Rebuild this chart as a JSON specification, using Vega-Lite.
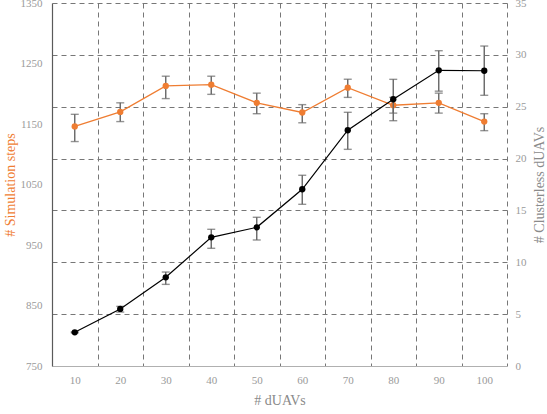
{
  "$schema": "https://vega.github.io/schema/vega-lite/v6.json",
  "autosize": "none",
  "width": 455,
  "height": 363,
  "padding": {"left": 52, "top": 3, "right": 40, "bottom": 48},
  "background": "white",
  "data": {
    "values": [
      {"n": 10, "steps": 1146, "steps_lo": 1121, "steps_hi": 1166, "cl": 3.25, "cl_lo": 3.2, "cl_hi": 3.3},
      {"n": 20, "steps": 1170, "steps_lo": 1154, "steps_hi": 1185, "cl": 5.5, "cl_lo": 5.2, "cl_hi": 5.75},
      {"n": 30, "steps": 1213, "steps_lo": 1192, "steps_hi": 1229, "cl": 8.55, "cl_lo": 7.87, "cl_hi": 9.06},
      {"n": 40, "steps": 1215, "steps_lo": 1199, "steps_hi": 1229, "cl": 12.41, "cl_lo": 11.35, "cl_hi": 13.18},
      {"n": 50, "steps": 1185, "steps_lo": 1167, "steps_hi": 1201, "cl": 13.37, "cl_lo": 12.15, "cl_hi": 14.34},
      {"n": 60, "steps": 1169, "steps_lo": 1152, "steps_hi": 1182, "cl": 17.04, "cl_lo": 15.59, "cl_hi": 18.39},
      {"n": 70, "steps": 1210, "steps_lo": 1194, "steps_hi": 1224, "cl": 22.73, "cl_lo": 20.89, "cl_hi": 24.46},
      {"n": 80, "steps": 1181, "steps_lo": 1168, "steps_hi": 1194, "cl": 25.72, "cl_lo": 23.65, "cl_hi": 27.64},
      {"n": 90, "steps": 1185, "steps_lo": 1168, "steps_hi": 1201, "cl": 28.51, "cl_lo": 26.5, "cl_hi": 30.4},
      {"n": 100, "steps": 1154, "steps_lo": 1139, "steps_hi": 1167, "cl": 28.47, "cl_lo": 26.1, "cl_hi": 30.85}
    ]
  },
  "config": {
    "view": {"stroke": null},
    "axis": {
      "labelFont": "Liberation Serif, DejaVu Serif, serif",
      "titleFont": "Liberation Serif, DejaVu Serif, serif",
      "labelFontSize": 11,
      "titleFontSize": 14,
      "titleFontWeight": "normal",
      "labelColor": "#9a9a9a",
      "titleColor": "#8a8a8a",
      "ticks": false,
      "format": "d"
    }
  },
  "layer": [
    {
      "encoding": {
        "x": {
          "field": "n",
          "type": "quantitative",
          "scale": {"domain": [5, 105], "nice": false, "zero": false},
          "axis": {
            "orient": "bottom",
            "title": "# dUAVs",
            "values": [10, 20, 30, 40, 50, 60, 70, 80, 90, 100],
            "grid": false,
            "domainColor": "#b0b0b0",
            "domainWidth": 1.2,
            "labelPadding": 8,
            "titlePadding": 8
          }
        }
      },
      "layer": [
        {
          "mark": {"type": "errorbar", "color": "#666666", "thickness": 1.4, "ticks": {"size": 8, "thickness": 1.4}},
          "encoding": {
            "y": {
              "field": "steps_lo",
              "type": "quantitative",
              "scale": {"domain": [750, 1350], "nice": false, "zero": false},
              "axis": {"orient": "left", "title": "# Simulation steps", "titleColor": "#ef7d32", "values": [750, 850, 950, 1050, 1150, 1250, 1350], "grid": false, "domainColor": "#5a5a5a", "domainWidth": 1.2, "labelPadding": 10, "titlePadding": 3}
            },
            "y2": {"field": "steps_hi"}
          }
        },
        {
          "mark": {"type": "line", "color": "#ef7d32", "strokeWidth": 1.3},
          "encoding": {
            "y": {
              "field": "steps",
              "type": "quantitative",
              "scale": {"domain": [750, 1350], "nice": false, "zero": false},
              "axis": {"orient": "left", "title": "# Simulation steps", "titleColor": "#ef7d32", "values": [750, 850, 950, 1050, 1150, 1250, 1350], "grid": false, "domainColor": "#5a5a5a", "domainWidth": 1.2, "labelPadding": 10, "titlePadding": 3}
            }
          }
        },
        {
          "mark": {"type": "point", "filled": true, "color": "#ef7d32", "size": 40, "opacity": 1},
          "encoding": {
            "y": {
              "field": "steps",
              "type": "quantitative",
              "scale": {"domain": [750, 1350], "nice": false, "zero": false},
              "axis": {"orient": "left", "title": "# Simulation steps", "titleColor": "#ef7d32", "values": [750, 850, 950, 1050, 1150, 1250, 1350], "grid": false, "domainColor": "#5a5a5a", "domainWidth": 1.2, "labelPadding": 10, "titlePadding": 3}
            }
          }
        }
      ]
    },
    {
      "encoding": {
        "x": {
          "field": "n",
          "type": "quantitative",
          "scale": {"domain": [5, 105], "nice": false, "zero": false},
          "axis": {
            "orient": "bottom",
            "title": null,
            "values": [15, 25, 35, 45, 55, 65, 75, 85, 95, 105],
            "labels": false,
            "domain": false,
            "grid": true,
            "gridColor": "#777777",
            "gridDash": [5, 4],
            "gridWidth": 1
          }
        }
      },
      "layer": [
        {
          "mark": {"type": "errorbar", "color": "#666666", "thickness": 1.4, "ticks": {"size": 8, "thickness": 1.4}},
          "encoding": {
            "y": {
              "field": "cl_lo",
              "type": "quantitative",
              "scale": {"domain": [0, 35], "nice": false},
              "axis": {"orient": "right", "title": "# Clusterless dUAVs", "titleAngle": 270, "titleBaseline": "top", "values": [0, 5, 10, 15, 20, 25, 30, 35], "domain": false, "grid": true, "gridColor": "#777777", "gridDash": [5, 4], "gridWidth": 1, "gridOpacity": {"condition": {"test": "datum.value === 0", "value": 0}, "value": 1}, "labelPadding": 8, "titlePadding": 6}
            },
            "y2": {"field": "cl_hi"}
          }
        },
        {
          "mark": {"type": "line", "color": "#000000", "strokeWidth": 1.2},
          "encoding": {
            "y": {
              "field": "cl",
              "type": "quantitative",
              "scale": {"domain": [0, 35], "nice": false},
              "axis": {"orient": "right", "title": "# Clusterless dUAVs", "titleAngle": 270, "titleBaseline": "top", "values": [0, 5, 10, 15, 20, 25, 30, 35], "domain": false, "grid": true, "gridColor": "#777777", "gridDash": [5, 4], "gridWidth": 1, "gridOpacity": {"condition": {"test": "datum.value === 0", "value": 0}, "value": 1}, "labelPadding": 8, "titlePadding": 6}
            }
          }
        },
        {
          "mark": {"type": "point", "filled": true, "color": "#000000", "size": 40, "opacity": 1},
          "encoding": {
            "y": {
              "field": "cl",
              "type": "quantitative",
              "scale": {"domain": [0, 35], "nice": false},
              "axis": {"orient": "right", "title": "# Clusterless dUAVs", "titleAngle": 270, "titleBaseline": "top", "values": [0, 5, 10, 15, 20, 25, 30, 35], "domain": false, "grid": true, "gridColor": "#777777", "gridDash": [5, 4], "gridWidth": 1, "gridOpacity": {"condition": {"test": "datum.value === 0", "value": 0}, "value": 1}, "labelPadding": 8, "titlePadding": 6}
            }
          }
        }
      ]
    }
  ],
  "resolve": {"scale": {"y": "independent"}, "axis": {"x": "independent"}}
}
